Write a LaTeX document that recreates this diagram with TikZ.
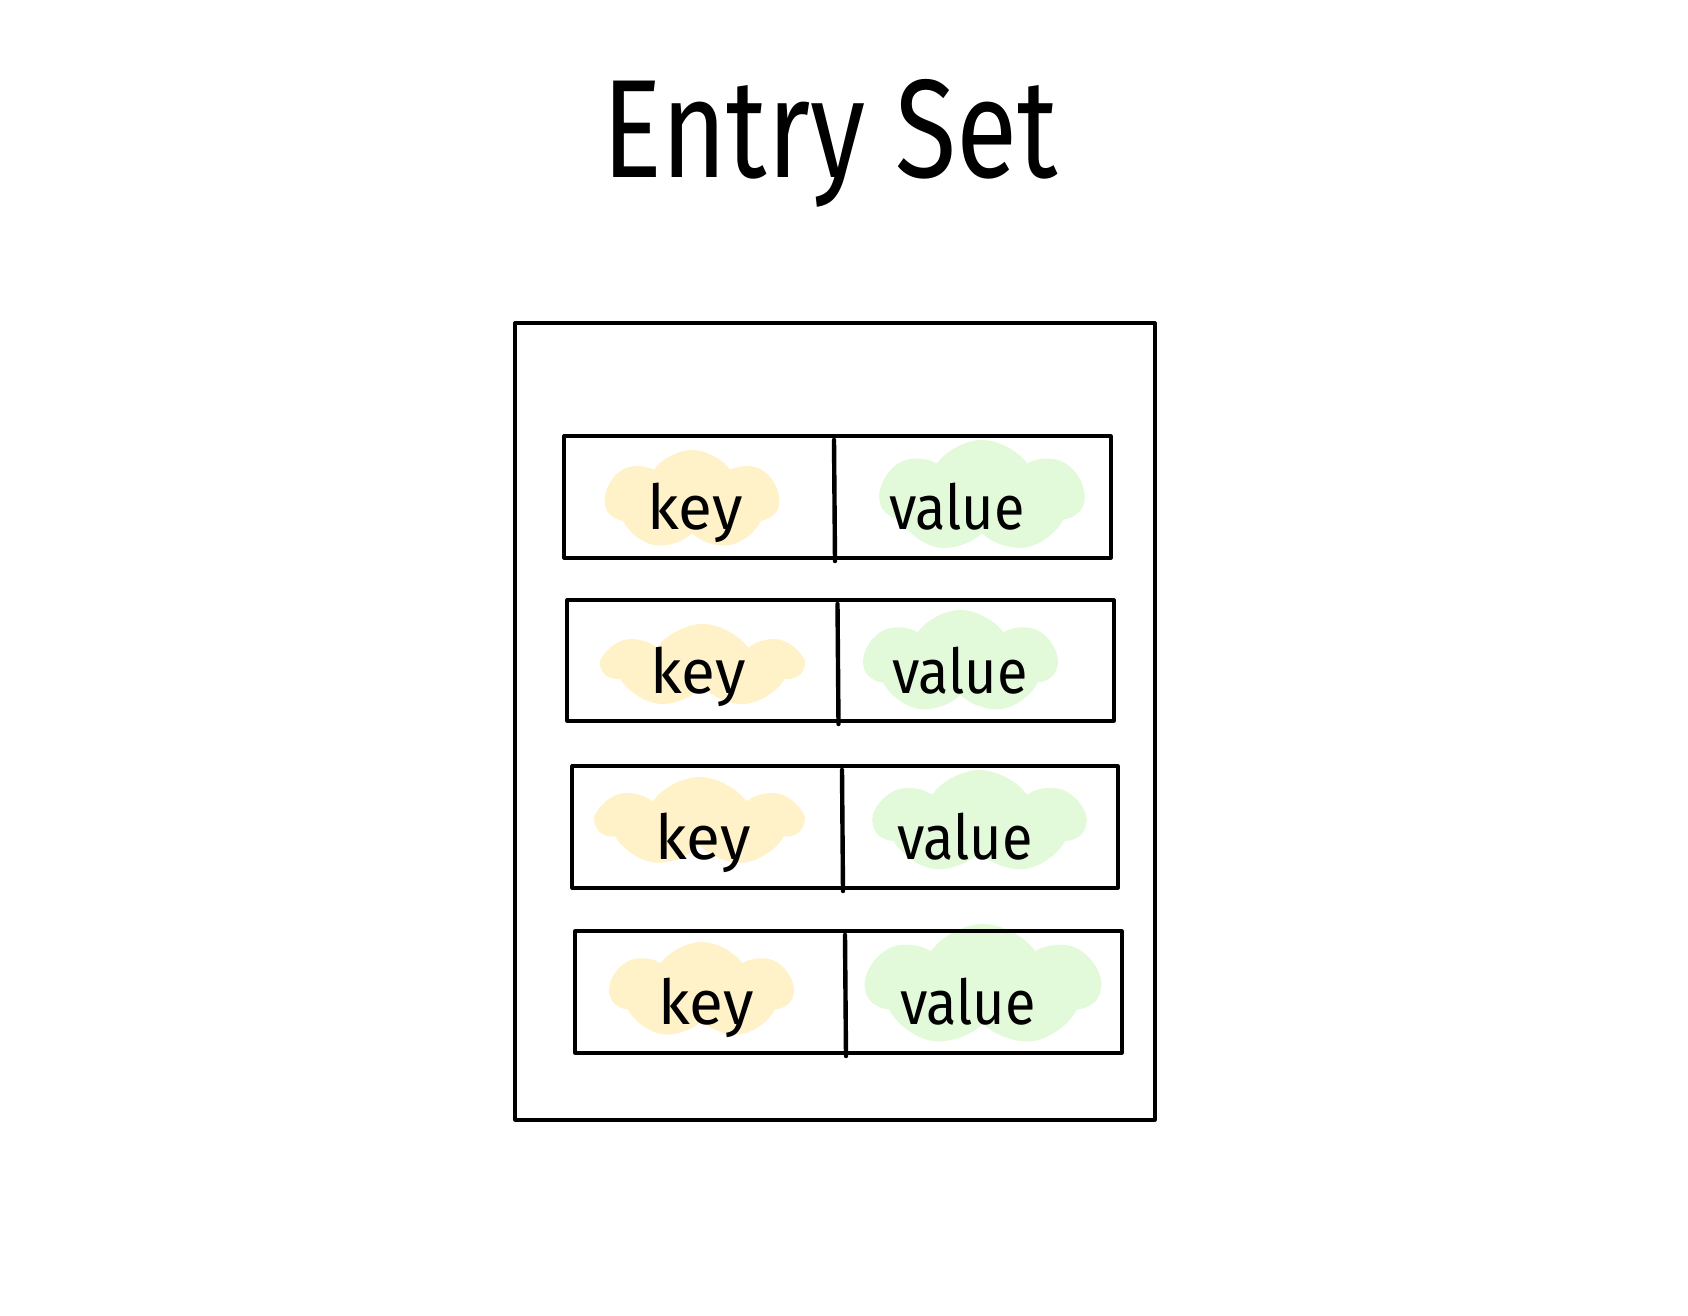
\documentclass[tikz,border=0pt]{standalone}
\usepackage{fontspec}
\setmainfont{Fira Sans}
\usetikzlibrary{fit,shapes.symbols}
\definecolor{keyfill}{RGB}{255,241,200}
\definecolor{valfill}{RGB}{226,250,218}
\tikzset{
  line/.style={draw=black, line width=1.6pt, line join=round},
  rowbox/.style={line, inner sep=0pt},
  blob/.style={cloud, cloud puffs=7, cloud puff arc=110, cloud ignores aspect, inner sep=0pt, draw=none},
  keyblob/.style={blob, fill=keyfill},
  valblob/.style={blob, fill=valfill},
  lbl/.style={anchor=base, inner sep=0pt, font=\fontsize{31pt}{31pt}\selectfont},
  titlestyle/.style={anchor=base, inner sep=0pt, font=\fontsize{70pt}{70pt}\selectfont}
}
\begin{document}
\begin{tikzpicture}[x=0.5pt,y=-0.5pt]
\useasboundingbox (0,0) rectangle (1688,1316);
\node[titlestyle] (title) at (830,178) {\scalebox{0.8}[1]{Entry Set}};
\node[rowbox, fit={(515,323) (1155,1120)}] (outer) {};
\foreach \i/\yl/\yt/\yr/\yb/\gl/\gt/\gr/\gb in {
  1/605/450/779/550/880/440/1084/553,
  2/603/624/802/708/864/610/1057/714,
  3/597/777/802/867/874/770/1085/874,
  4/610/942/793/1039/866/924/1100/1047}{
  \pgfmathsetmacro{\kw}{(\yr-\yl)*0.5}
  \pgfmathsetmacro{\kh}{(\yb-\yt)*0.5}
  \pgfmathsetmacro{\vw}{(\gr-\gl)*0.5}
  \pgfmathsetmacro{\vh}{(\gb-\gt)*0.5}
  \node[keyblob, minimum width=\kw pt, minimum height=\kh pt] (kb\i) at ({(\yl+\yr)/2},{(\yt+\yb)/2}) {};
  \node[valblob, minimum width=\vw pt, minimum height=\vh pt] (vb\i) at ({(\gl+\gr)/2},{(\gt+\gb)/2}) {};
}
\foreach \i/\L/\T/\R/\B/\D in {
  1/564/436/1111/558/834,
  2/567/600/1114/721/837.5,
  3/572/766/1118/888/842,
  4/575/931/1122/1053/845}{
  \node[rowbox, fit={(\L,\T) (\R,\B)}] (row\i) {};
  \coordinate (dt\i) at (\D,\T+4);
  \coordinate (db\i) at (\D+1,\B+3);
  \draw[line, line width=2.2pt, line cap=round] (dt\i) -- (db\i);
  \node[lbl] (key\i) at (\L+131,\T+93) {key};
  \node[lbl] (val\i) at (\L+393,\T+93) {\scalebox{0.9}[1]{value}};
}
\end{tikzpicture}
\end{document}
